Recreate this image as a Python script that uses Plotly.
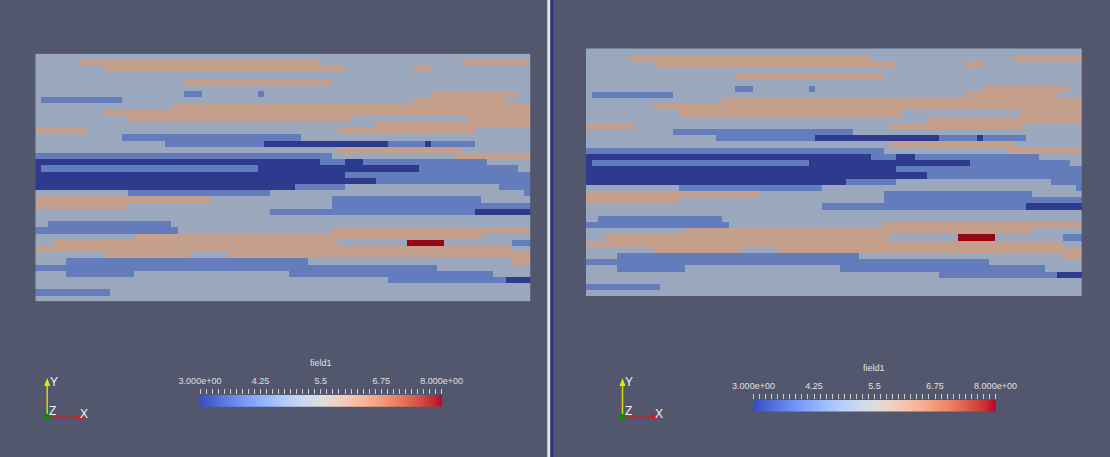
import numpy as np
import plotly.graph_objects as go

W, H = 1110, 457

# ---- data: layered field, 40 rows x 80 columns, run-length encoded per row (top row first)
# codes: g = 5.0 (grey), o = 6.0 (peach), b = 4.0 (blue), d = 3.0 (dark blue), r = 8.0 (red)
code_values = {"d": 3.0, "b": 4.0, "g": 5.0, "o": 6.0, "r": 8.0}
row_runs = [
    [("g", 80)],
    [("g", 7), ("o", 39), ("g", 23), ("o", 11)],
    [("g", 11), ("o", 39), ("g", 11), ("o", 3), ("g", 16)],
    [("g", 80)],
    [("g", 24), ("o", 24), ("g", 32)],
    [("g", 80)],
    [("g", 24), ("b", 3), ("g", 9), ("b", 1), ("g", 27), ("o", 14), ("g", 2)],
    [("g", 1), ("b", 13), ("g", 47), ("o", 15), ("g", 4)],
    [("g", 22), ("o", 58)],
    [("g", 11), ("o", 69)],
    [("g", 15), ("o", 36), ("g", 19), ("o", 10)],
    [("g", 55), ("o", 25)],
    [("o", 8), ("g", 41), ("o", 22), ("g", 9)],
    [("g", 14), ("b", 29), ("g", 37)],
    [("g", 21), ("b", 16), ("d", 20), ("b", 6), ("d", 1), ("b", 7), ("g", 9)],
    [("g", 49), ("o", 20), ("g", 11)],
    [("b", 48), ("g", 20), ("o", 12)],
    [("d", 46), ("b", 4), ("d", 3), ("b", 20), ("g", 7)],
    [("d", 1), ("b", 35), ("d", 26), ("b", 16), ("g", 2)],
    [("d", 50), ("b", 30)],
    [("d", 55), ("b", 25)],
    [("d", 42), ("b", 8), ("g", 25), ("b", 5)],
    [("g", 15), ("b", 23), ("g", 41), ("b", 1)],
    [("o", 28), ("g", 20), ("b", 24), ("g", 8)],
    [("o", 15), ("g", 33), ("b", 32)],
    [("g", 38), ("b", 33), ("d", 9)],
    [("g", 80)],
    [("g", 2), ("b", 20), ("g", 58)],
    [("b", 23), ("g", 25), ("o", 32)],
    [("g", 16), ("o", 56), ("g", 8)],
    [("g", 3), ("o", 46), ("g", 11), ("r", 6), ("g", 11), ("b", 3)],
    [("o", 77), ("g", 3)],
    [("g", 11), ("o", 14), ("g", 6), ("o", 49)],
    [("g", 5), ("b", 39), ("g", 33), ("o", 3)],
    [("b", 65), ("g", 15)],
    [("g", 5), ("b", 11), ("g", 25), ("b", 33), ("g", 6)],
    [("g", 57), ("b", 19), ("d", 4)],
    [("g", 80)],
    [("b", 12), ("g", 68)],
    [("g", 80)],
]

field_title = "field1"
cbar_tick_vals = [3.0, 4.25, 5.5, 6.75, 8.0]
cbar_tick_text = ["3.000e+00", "4.25", "5.5", "6.75", "8.000e+00"]
cbar_range = [3.0, 8.0]

# build the grid
z = []
for runs in row_runs:
    row = []
    for code, n in runs:
        row += [code_values[code]] * n
    z.append(row)
ncols = len(z[0])
nrows = len(z)

# rendered (lit) colours of the discrete levels
zmin, zmax = 3.0, 8.0
lvl_colors = [(3.0, "#2e3a8e"), (4.0, "#637cbb"), (5.0, "#9aa7bd"), (6.0, "#c4a08c"), (8.0, "#960418")]
def pos(v):
    return (v - zmin) / (zmax - zmin)
bounds = [3.0, 3.5, 4.5, 5.5, 7.0, 8.0]
field_cs = []
for i, (v, c) in enumerate(lvl_colors):
    field_cs.append([pos(bounds[i]), c])
    field_cs.append([pos(bounds[i + 1]), c])

# ParaView cool-to-warm
ctw = [(59,76,192),(68,90,204),(77,104,215),(87,117,225),(98,130,234),(108,142,241),(119,154,247),
       (130,165,251),(141,176,254),(152,185,255),(163,194,255),(174,201,253),(184,208,249),(194,213,244),
       (204,217,238),(213,219,230),(221,221,221),(229,216,209),(236,211,197),(241,204,185),(245,196,173),
       (247,187,160),(247,177,148),(247,166,135),(244,154,123),(241,141,111),(236,127,99),(229,112,88),
       (222,96,77),(213,80,66),(203,62,56),(192,40,47),(180,4,38)]
ctw_cs = [[i / (len(ctw) - 1), "rgb(%d,%d,%d)" % c] for i, c in enumerate(ctw)]
ramp = np.linspace(cbar_range[0], cbar_range[1], 256)

BG = "#52576e"
TXT = "#e0e0e0"
FONT = "Liberation Sans, Arial, sans-serif"

def px(x):
    return x / W
def py(y):
    return 1 - y / H

panels = [
    dict(hm=(35.3, 530.7, 53.7, 301.3), cb=(200.0, 441.7, 395.0, 406.7), title=(320.8, 362.5),
         triad=(47.2, 417.0)),
    dict(hm=(586.0, 1081.7, 48.3, 296.0), cb=(753.5, 995.5, 400.0, 411.5), title=(874.5, 368.0),
         triad=(622.5, 417.0)),
]

fig = go.Figure()
layout = {}
shapes = []
annotations = []

for i, p in enumerate(panels):
    k = 2 * i + 1
    xa, ya = f"x{k}", f"y{k}"
    xa2, ya2 = f"x{k+1}", f"y{k+1}"
    x0, x1, y0, y1 = p["hm"]
    fig.add_trace(go.Heatmap(z=z, x=list(range(ncols)), y=list(range(nrows)), zmin=zmin, zmax=zmax,
                             colorscale=field_cs, showscale=False, xaxis=xa, yaxis=ya, hoverinfo="skip"))
    layout[f"xaxis{k}"] = dict(domain=[px(x0), px(x1)], range=[-0.5, ncols - 0.5], visible=False,
                               anchor=ya, fixedrange=True, automargin=False)
    layout[f"yaxis{k}"] = dict(domain=[py(y1), py(y0)], range=[nrows - 0.5, -0.5], visible=False,
                               anchor=xa, fixedrange=True, automargin=False)
    # colour legend bar
    c0, c1, cy0, cy1 = p["cb"]
    fig.add_trace(go.Heatmap(z=[list(ramp)], x=list(ramp), y=[0], zmin=zmin, zmax=zmax,
                             colorscale=ctw_cs, showscale=False, xaxis=xa2, yaxis=ya2, hoverinfo="skip"))
    layout[f"xaxis{k+1}"] = dict(domain=[px(c0), px(c1)], range=cbar_range, side="top", anchor=ya2,
                                 showgrid=False, zeroline=False, showline=False, automargin=False,
                                 tickmode="array", tickvals=cbar_tick_vals, ticktext=cbar_tick_text,
                                 ticks="outside", ticklen=5, tickwidth=1, tickcolor="#d0d0d0",
                                 minor=dict(ticks="outside", ticklen=5, tickwidth=1, tickcolor="#d0d0d0",
                                            tick0=3.0, dtick=0.125),
                                 tickfont=dict(family=FONT, size=9, color=TXT), ticklabelstandoff=1,
                                 fixedrange=True)
    layout[f"yaxis{k+1}"] = dict(domain=[py(cy1), py(cy0)], range=[-0.5, 0.5], visible=False,
                                 anchor=xa2, fixedrange=True, automargin=False)
    tx, ty = p["title"]
    annotations.append(dict(x=px(tx), y=py(ty), xref="paper", yref="paper", text=field_title,
                            showarrow=False, font=dict(family=FONT, size=9, color=TXT),
                            xanchor="center", yanchor="middle"))
    # orientation triad
    ox, oy = p["triad"]
    shapes.append(dict(type="line", xref="paper", yref="paper", x0=px(ox), y0=py(oy), x1=px(ox), y1=py(oy - 33),
                       line=dict(color="#d8d800", width=1.5)))
    shapes.append(dict(type="path", xref="paper", yref="paper",
                       path=f"M {px(ox-3)} {py(oy-31)} L {px(ox)} {py(oy-39)} L {px(ox+3)} {py(oy-31)} Z",
                       fillcolor="#e8e800", line=dict(width=0)))
    shapes.append(dict(type="line", xref="paper", yref="paper", x0=px(ox), y0=py(oy), x1=px(ox + 32), y1=py(oy),
                       line=dict(color="#d02020", width=1.5)))
    shapes.append(dict(type="path", xref="paper", yref="paper",
                       path=f"M {px(ox+30)} {py(oy-3)} L {px(ox+38)} {py(oy)} L {px(ox+30)} {py(oy+3)} Z",
                       fillcolor="#e01818", line=dict(width=0)))
    shapes.append(dict(type="circle", xref="paper", yref="paper", x0=px(ox - 3.2), x1=px(ox + 3.2),
                       y0=py(oy + 3.2), y1=py(oy - 3.2), fillcolor="#0c8a0c", line=dict(width=0)))
    for lab, dx, dy in [("Y", 6.5, -35), ("Z", 5.5, -6), ("X", 36.5, -3.5)]:
        annotations.append(dict(x=px(ox + dx), y=py(oy + dy), xref="paper", yref="paper", text=lab,
                                showarrow=False, font=dict(family=FONT, size=12, color="#f4f4f4"),
                                xanchor="center", yanchor="middle"))

# divider between the two views
shapes.append(dict(type="rect", xref="paper", yref="paper", x0=px(547.3), x1=px(550.0), y0=0, y1=1,
                   fillcolor="#e4e5ec", line=dict(width=0)))
shapes.append(dict(type="rect", xref="paper", yref="paper", x0=px(551.0), x1=px(553.3), y0=0, y1=1,
                   fillcolor="#2a3498", line=dict(width=0)))

fig.update_layout(width=W, height=H, autosize=False, margin=dict(l=0, r=0, t=0, b=0, pad=0),
                  paper_bgcolor=BG, plot_bgcolor=BG,
                  showlegend=False, shapes=shapes, annotations=annotations, **layout)
fig.write_html("out.html", config={"displayModeBar": False, "responsive": False},
               post_script="document.body.style.margin='0';document.body.style.overflow='hidden';")
